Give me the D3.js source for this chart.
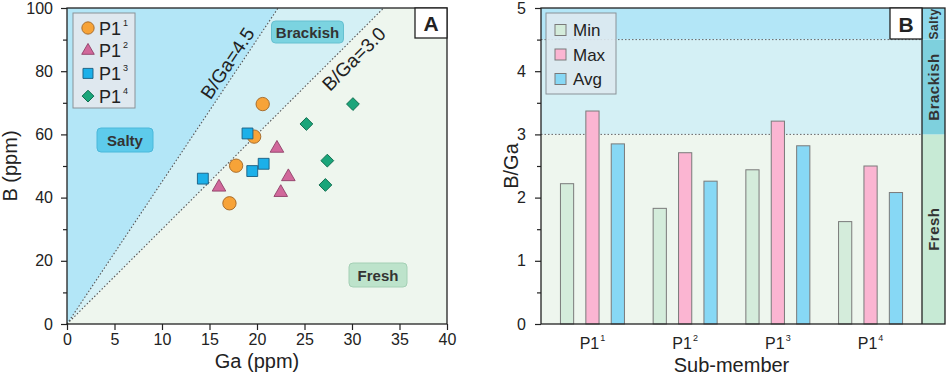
<html>
  <head>
    <script src="https://d3js.org/d3.v7.min.js"></script>
    <style>
      body { margin: 0; background: #fff; }
      text { font-family: "Liberation Sans", Arial, sans-serif; fill: #222; }
    </style>
  </head>
  <body>
    <svg id="chart" width="948" height="380"></svg>
    <script>
      // panel A data: Ga (ppm) vs B (ppm) per sub-member
      const groups = ["1", "2", "3", "4"];
      const gaP11 = [20.6, 19.7, 17.8, 17.1];
      const bP11 = [69.6, 59.3, 50.1, 38.2];
      const gaP12 = [22.1, 23.3, 22.5, 16.0];
      const bP12 = [55.6, 46.6, 41.6, 43.3];
      const gaP13 = [19.0, 20.7, 19.5, 14.3];
      const bP13 = [60.3, 50.7, 48.4, 46.0];
      const gaP14 = [30.1, 25.2, 27.4, 27.2];
      const bP14 = [69.6, 63.3, 51.7, 44.0];
      const ratioLines = [4.5, 3.0];

      // panel B data: B/Ga per sub-member
      const stats = ["Min", "Max", "Avg"];
      const minVals = [2.22, 1.83, 2.44, 1.62];
      const maxVals = [3.37, 2.71, 3.21, 2.50];
      const avgVals = [2.85, 2.26, 2.82, 2.08];

      const svg = d3.select("#chart");

      const cSalty = "#b3e6f7", cBrack = "#d4f0f5", cFresh = "#eef6ee";

      // ---------------- Panel A ----------------
      const A = { l: 67, r: 447, t: 8, b: 324 };
      const x = d3.scaleLinear().domain([0, 40]).range([A.l, A.r]);
      const y = d3.scaleLinear().domain([0, 100]).range([A.b, A.t]);
      const gA = svg.append("g");

      const poly = (pts) => "M" + pts.map((p) => [x(p[0]), y(p[1])].join(",")).join("L") + "Z";
      gA.append("path").attr("d", poly([[0, 0], [40, 0], [40, 100], [100 / 3, 100]])).attr("fill", cFresh);
      gA.append("path").attr("d", poly([[0, 0], [100 / 3, 100], [100 / 4.5, 100]])).attr("fill", cBrack);
      gA.append("path").attr("d", poly([[0, 0], [100 / 4.5, 100], [0, 100]])).attr("fill", cSalty);

      gA.selectAll("line.ratio")
        .data(ratioLines)
        .join("line")
        .attr("class", "ratio")
        .attr("x1", x(0)).attr("y1", y(0))
        .attr("x2", (d) => x(100 / d)).attr("y2", y(100))
        .attr("stroke", "#555").attr("stroke-width", 1.1)
        .attr("stroke-dasharray", "1.5,2");

      // ratio line labels (4.5 sits above-left of its line, 3.0 below-right)
      const ratioLabelPos = [[16.9, 82.5], [30.2, 83.9]];
      ratioLines.forEach((r, i) => {
        const ang = Math.atan2(y(r * 10) - y(0), x(10) - x(0)) * 180 / Math.PI;
        const px = x(ratioLabelPos[i][0]), py = y(ratioLabelPos[i][1]);
        gA.append("text")
          .attr("transform", `translate(${px},${py}) rotate(${ang})`)
          .attr("text-anchor", "middle").attr("dominant-baseline", "central")
          .style("font-size", "19px")
          .text("B/Ga=" + r.toFixed(1));
      });

      // region tags
      function tag(g, cx, cy, w, h, label, fill, stroke) {
        g.append("rect").attr("x", cx - w / 2).attr("y", cy - h / 2)
          .attr("width", w).attr("height", h).attr("rx", 4)
          .attr("fill", fill).attr("stroke", stroke).attr("stroke-width", 1);
        g.append("text").attr("x", cx).attr("y", cy)
          .attr("text-anchor", "middle").attr("dominant-baseline", "central")
          .style("font-size", "15px").style("font-weight", "bold").style("fill", "#333")
          .text(label);
      }
      tag(gA, 125, 140, 56, 24, "Salty", "#5ecbeb", "#4bb8da");
      tag(gA, 307.5, 32, 72, 22, "Brackish", "#7bd3e0", "#66c0d0");
      tag(gA, 378, 275, 58, 24, "Fresh", "#bde3cb", "#a4d0b5");

      // scatter points
      const series = [
        { ga: gaP11, b: bP11, type: d3.symbolCircle, size: 140, fill: "#f7a338", stroke: "#a06424", rot: 0 },
        { ga: gaP12, b: bP12, type: d3.symbolTriangle, size: 80, fill: "#d1689b", stroke: "#8e4068", rot: 0 },
        { ga: gaP13, b: bP13, type: d3.symbolSquare, size: 118, fill: "#1cb0e9", stroke: "#1a5c80", rot: 0 },
        { ga: gaP14, b: bP14, type: d3.symbolSquare, size: 82, fill: "#1aa57a", stroke: "#0d6a4c", rot: 45 },
      ];
      series.forEach((s) => {
        const sym = d3.symbol().type(s.type).size(s.size);
        gA.selectAll(null)
          .data(d3.zip(s.ga, s.b))
          .join("path")
          .attr("d", sym)
          .attr("transform", (d) => `translate(${x(d[0])},${y(d[1])}) rotate(${s.rot})`)
          .attr("fill", s.fill).attr("stroke", s.stroke).attr("stroke-width", 0.9);
      });

      // legend A
      const legA = gA.append("g");
      legA.append("rect").attr("x", 73).attr("y", 13).attr("width", 62).attr("height", 95)
        .attr("fill", "#dfe8ef").attr("stroke", "#8a9298").attr("stroke-width", 1);
      series.forEach((s, i) => {
        const ly = 28 + i * 22.7;
        legA.append("path")
          .attr("d", d3.symbol().type(s.type).size(s.size * 0.85))
          .attr("transform", `translate(88,${ly}) rotate(${s.rot})`)
          .attr("fill", s.fill).attr("stroke", s.stroke).attr("stroke-width", 0.9);
        const t = legA.append("text").attr("x", 99).attr("y", ly + 6.5).style("font-size", "18px").text("P1");
        t.append("tspan").attr("dy", -9).attr("dx", 2).style("font-size", "9px").text(groups[i]);
      });

      // axes A
      const yAxisA = gA.append("g").attr("transform", `translate(${A.l},0)`)
        .call(d3.axisLeft(y).tickValues(d3.range(0, 101, 10)).tickSize(6).tickPadding(8)
          .tickFormat((d) => (d % 20 === 0 ? d : "")));
      yAxisA.selectAll(".tick line").attr("x2", (d) => (d % 20 === 0 ? -6 : -4));
      const xAxisA = gA.append("g").attr("transform", `translate(0,${A.b})`)
        .call(d3.axisBottom(x).tickValues(d3.range(0, 41, 5)).tickSize(6).tickPadding(4));
      [yAxisA, xAxisA].forEach((ax) => {
        ax.select(".domain").remove();
        ax.selectAll("text").style("font-size", "16px").style("fill", "#222");
        ax.selectAll("line").attr("stroke", "#222").attr("stroke-width", 1.2);
      });
      gA.append("rect").attr("x", A.l).attr("y", A.t).attr("width", A.r - A.l).attr("height", A.b - A.t)
        .attr("fill", "none").attr("stroke", "#222").attr("stroke-width", 1.3);
      gA.append("rect").attr("x", 415).attr("y", A.t).attr("width", A.r - 415).attr("height", 30)
        .attr("fill", "#fff").attr("stroke", "#222").attr("stroke-width", 1.3);
      gA.append("text").attr("x", 431).attr("y", 31).attr("text-anchor", "middle")
        .style("font-size", "21px").style("font-weight", "bold").text("A");

      gA.append("text").attr("x", x(20)).attr("y", 368).attr("text-anchor", "middle")
        .style("font-size", "20px").text("Ga (ppm)");
      gA.append("text").attr("transform", `translate(17,${(A.t + A.b) / 2}) rotate(-90)`)
        .attr("text-anchor", "middle").style("font-size", "20px").text("B (ppm)");

      // ---------------- Panel B ----------------
      const B = { l: 541, r: 922, t: 8, b: 324, s: 945 };
      const yB = d3.scaleLinear().domain([0, 5]).range([B.b, B.t]);
      const xB = d3.scaleBand().domain(groups).range([B.l, B.r]).paddingInner(0).paddingOuter(0.055);
      const gB = svg.append("g");

      const bands = [
        { lo: 0, hi: 3, bg: cFresh, strip: "#c7ead5", label: "Fresh", fs: 15 },
        { lo: 3, hi: 4.5, bg: cBrack, strip: "#7ed0dd", label: "Brackish", fs: 15 },
        { lo: 4.5, hi: 5, bg: cSalty, strip: "#8ed9ec", label: "Salty", fs: 12 },
      ];
      gB.selectAll("rect.bg").data(bands).join("rect").attr("class", "bg")
        .attr("x", B.l).attr("width", B.r - B.l)
        .attr("y", (d) => yB(d.hi)).attr("height", (d) => yB(d.lo) - yB(d.hi))
        .attr("fill", (d) => d.bg);
      gB.selectAll("rect.strip").data(bands).join("rect").attr("class", "strip")
        .attr("x", B.r).attr("width", B.s - B.r)
        .attr("y", (d) => yB(d.hi)).attr("height", (d) => yB(d.lo) - yB(d.hi))
        .attr("fill", (d) => d.strip);
      gB.selectAll("text.strip").data(bands).join("text").attr("class", "strip")
        .attr("transform", (d) => `translate(${(B.r + B.s) / 2},${(yB(d.lo) + yB(d.hi)) / 2}) rotate(-90)`)
        .attr("text-anchor", "middle").attr("dominant-baseline", "central")
        .style("font-size", (d) => d.fs + "px").style("font-weight", "bold").style("fill", "#333")
        .style("letter-spacing", "0.5px")
        .text((d) => d.label);
      gB.selectAll("line.lim").data([3, 4.5]).join("line").attr("class", "lim")
        .attr("x1", B.l).attr("x2", B.r).attr("y1", yB).attr("y2", yB)
        .attr("stroke", "#666").attr("stroke-width", 1).attr("stroke-dasharray", "1.5,2");

      // bars
      const barCols = { Min: "#d4ecdb", Max: "#fbb5d2", Avg: "#87d8f5" };
      const barVals = { Min: minVals, Max: maxVals, Avg: avgVals };
      const xs = d3.scaleBand().domain(stats).range([-32, 32]).paddingInner(0.48).paddingOuter(0);
      stats.forEach((st) => {
        gB.selectAll(null)
          .data(groups)
          .join("rect")
          .attr("x", (g) => xB(g) + xB.bandwidth() / 2 + xs(st))
          .attr("width", xs.bandwidth())
          .attr("y", (g, i) => yB(barVals[st][i]))
          .attr("height", (g, i) => yB(0) - yB(barVals[st][i]))
          .attr("fill", barCols[st]).attr("stroke", "#7a7a7a").attr("stroke-width", 1);
      });

      // legend B
      const legB = gB.append("g");
      legB.append("rect").attr("x", 546).attr("y", 13).attr("width", 70).attr("height", 81)
        .attr("fill", "#dde9ef").attr("stroke", "#8a9298").attr("stroke-width", 1).attr("fill-opacity", 0.9);
      stats.forEach((st, i) => {
        const ly = 30 + i * 24.5;
        legB.append("rect").attr("x", 555).attr("y", ly - 5.5).attr("width", 11).attr("height", 11)
          .attr("fill", barCols[st]).attr("stroke", "#7a7a7a");
        legB.append("text").attr("x", 573).attr("y", ly + 6).style("font-size", "17px").text(st);
      });

      // axes B
      const yAxisB = gB.append("g").attr("transform", `translate(${B.l},0)`)
        .call(d3.axisLeft(yB).tickValues(d3.range(0, 5.01, 0.5)).tickSize(6).tickPadding(9)
          .tickFormat((d) => (Number.isInteger(d) ? d : "")));
      yAxisB.selectAll(".tick line").attr("x2", (d) => (Number.isInteger(d) ? -6 : -4));
      yAxisB.select(".domain").remove();
      yAxisB.selectAll("text").style("font-size", "16px").style("fill", "#222");
      yAxisB.selectAll("line").attr("stroke", "#222").attr("stroke-width", 1.2);

      gB.selectAll("text.cat").data(groups).join("text").attr("class", "cat")
        .attr("x", (g) => xB(g) + xB.bandwidth() / 2).attr("y", 349)
        .attr("text-anchor", "middle").style("font-size", "16px")
        .text("P1")
        .append("tspan").attr("dy", -8).attr("dx", 1).style("font-size", "9px").text((g) => g);

      gB.append("rect").attr("x", B.l).attr("y", B.t).attr("width", B.s - B.l).attr("height", B.b - B.t)
        .attr("fill", "none").attr("stroke", "#222").attr("stroke-width", 1.3);
      gB.append("line").attr("x1", B.r).attr("x2", B.r).attr("y1", B.t).attr("y2", B.b)
        .attr("stroke", "#222").attr("stroke-width", 1.3);
      gB.append("rect").attr("x", 890).attr("y", B.t).attr("width", B.r - 890).attr("height", 31)
        .attr("fill", "#fff").attr("stroke", "#222").attr("stroke-width", 1.3);
      gB.append("text").attr("x", 906).attr("y", 31.5).attr("text-anchor", "middle")
        .style("font-size", "21px").style("font-weight", "bold").text("B");

      gB.append("text").attr("x", (B.l + B.r) / 2).attr("y", 372).attr("text-anchor", "middle")
        .style("font-size", "20px").text("Sub-member");
      gB.append("text").attr("transform", `translate(518,${(B.t + B.b) / 2}) rotate(-90)`)
        .attr("text-anchor", "middle").style("font-size", "20px").text("B/Ga");
    </script>
  </body>
</html>
